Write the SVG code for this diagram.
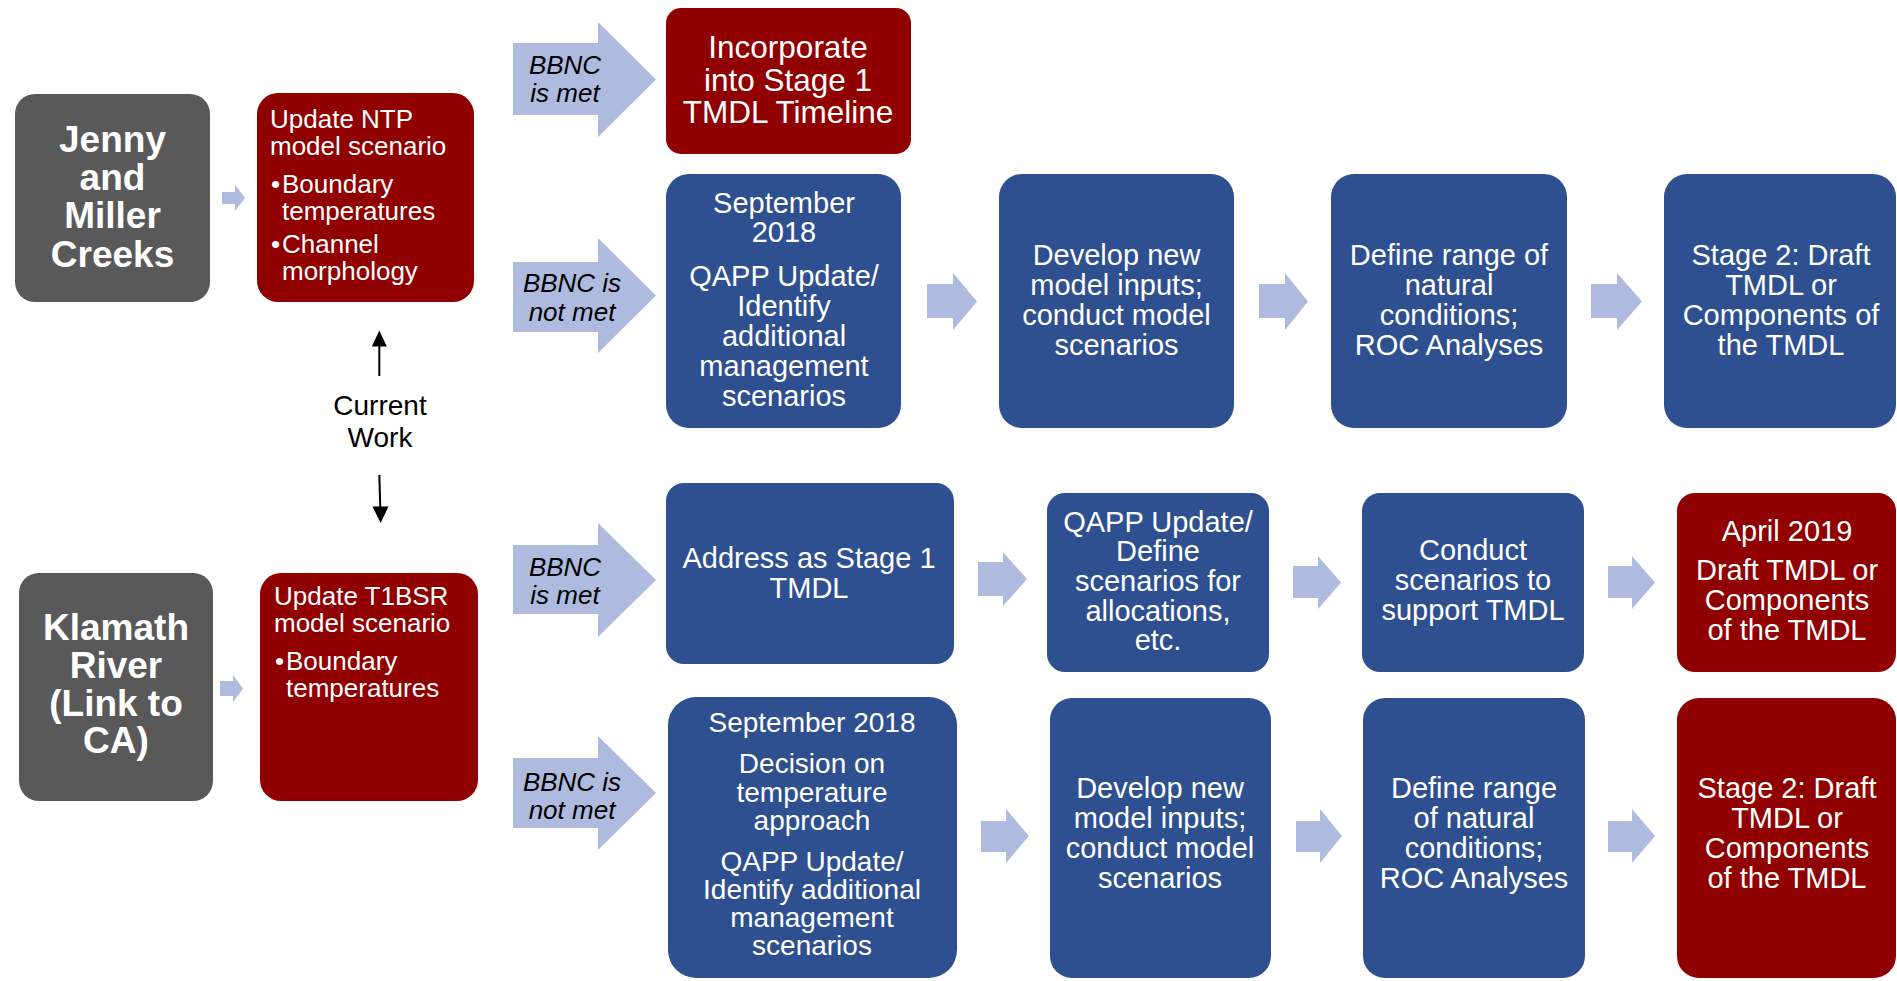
<svg xmlns="http://www.w3.org/2000/svg" width="1897" height="981" viewBox="0 0 1897 981">
<style>
text{font-family:"Liberation Sans",Arial,sans-serif;}
.gray{fill:#595959;}
.red{fill:#910000;}
.blue{fill:#2E5090;}
.arr{fill:#AEBBDE;}
.tb{fill:#fff;font-weight:bold;font-size:37px;text-anchor:middle;}
.tl{fill:#fff;font-size:26px;}
.t29{fill:#fff;font-size:29px;text-anchor:middle;}
.t28{fill:#fff;font-size:28px;text-anchor:middle;}
.t31{fill:#fff;font-size:31.5px;text-anchor:middle;}
.lbl{fill:#000;font-size:26px;font-style:italic;text-anchor:middle;}
.cw{fill:#000;font-size:28px;text-anchor:middle;}
.line{stroke:#000;stroke-width:2;fill:none;}
.head{fill:#000;}
</style>

<g id="connectors">
  <!-- small left arrows -->
  <polygon class="arr" points="222,192 235,192 235,185 245,198 235,211 235,204 222,204"/>
  <polygon class="arr" points="220,681 233,681 233,675 243,688.5 233,702 233,696 220,696"/>
  <!-- BBNC arrows -->
  <polygon class="arr" points="513,43 598,43 598,22 656,79.5 598,137 598,115 513,115"/>
  <polygon class="arr" points="513,262 598,262 598,238 656,295.5 598,353 598,332 513,332"/>
  <polygon class="arr" points="513,545 598,545 598,523 656,580 598,637 598,614 513,614"/>
  <polygon class="arr" points="513,758 598,758 598,736 656,793 598,850 598,828 513,828"/>
  <!-- row 1 arrows -->
  <polygon class="arr" points="927,284 953,284 953,273 977,301.5 953,330 953,318 927,318"/>
  <polygon class="arr" points="1259,284 1285,284 1285,273 1308,301.5 1285,330 1285,318 1259,318"/>
  <polygon class="arr" points="1591,284 1617,284 1617,273 1642,301.5 1617,330 1617,318 1591,318"/>
  <!-- row 2 arrows -->
  <polygon class="arr" points="978,562 1003,562 1003,552 1027,579 1003,606 1003,596 978,596"/>
  <polygon class="arr" points="1293,566 1318,566 1318,556 1341,582.5 1318,609 1318,598 1293,598"/>
  <polygon class="arr" points="1608,566 1632,566 1632,556 1655,582.5 1632,609 1632,598 1608,598"/>
  <!-- row 3 arrows -->
  <polygon class="arr" points="981,821 1006,821 1006,809 1029,836 1006,863 1006,852 981,852"/>
  <polygon class="arr" points="1296,821 1320,821 1320,809 1342,836 1320,863 1320,852 1296,852"/>
  <polygon class="arr" points="1608,821 1632,821 1632,809 1655,836 1632,863 1632,852 1608,852"/>
  <!-- current work arrows -->
  <line class="line" x1="379.3" y1="376" x2="379.3" y2="345"/>
  <polygon class="head" points="379.3,330.5 371.8,346.5 386.8,346.5"/>
  <line class="line" x1="379.3" y1="475" x2="380.3" y2="508"/>
  <polygon class="head" points="372.5,506.5 388.5,506.5 380.6,523"/>
  <!-- labels -->
  <text class="lbl" x="565" y="74">BBNC</text>
  <text class="lbl" x="565" y="102">is met</text>
  <text class="lbl" x="572" y="292">BBNC is</text>
  <text class="lbl" x="572" y="321">not met</text>
  <text class="lbl" x="565" y="576">BBNC</text>
  <text class="lbl" x="565" y="604">is met</text>
  <text class="lbl" x="572" y="791">BBNC is</text>
  <text class="lbl" x="572" y="819">not met</text>
</g>

<g id="n_current_work">
  <text class="cw" x="380" y="415">Current</text>
  <text class="cw" x="380" y="447">Work</text>
</g>

<g id="n_jenny">
  <rect class="gray" x="15" y="94" width="195" height="208" rx="20"/>
  <text class="tb" x="112.5" y="152">Jenny</text>
  <text class="tb" x="112.5" y="190">and</text>
  <text class="tb" x="112.5" y="228">Miller</text>
  <text class="tb" x="112.5" y="267">Creeks</text>
</g>

<g id="n_ntp">
  <rect class="red" x="257" y="93" width="217" height="209" rx="21"/>
  <text class="tl" x="270" y="128">Update NTP</text>
  <text class="tl" x="270" y="155">model scenario</text>
  <text class="tl" x="271" y="193">•</text>
  <text class="tl" x="282" y="193">Boundary</text>
  <text class="tl" x="282" y="220">temperatures</text>
  <text class="tl" x="271" y="253">•</text>
  <text class="tl" x="282" y="253">Channel</text>
  <text class="tl" x="282" y="280">morphology</text>
</g>

<g id="n_klamath">
  <rect class="gray" x="19" y="573" width="194" height="228" rx="20"/>
  <text class="tb" x="116" y="640">Klamath</text>
  <text class="tb" x="116" y="678">River</text>
  <text class="tb" x="116" y="716">(Link to</text>
  <text class="tb" x="116" y="753">CA)</text>
</g>

<g id="n_t1bsr">
  <rect class="red" x="260" y="573" width="218" height="228" rx="21"/>
  <text class="tl" x="274" y="605">Update T1BSR</text>
  <text class="tl" x="274" y="632">model scenario</text>
  <text class="tl" x="275" y="670">•</text>
  <text class="tl" x="286" y="670">Boundary</text>
  <text class="tl" x="286" y="697">temperatures</text>
</g>

<g id="n_incorporate">
  <rect class="red" x="666" y="8" width="245" height="146" rx="15"/>
  <text class="t31" x="788" y="58">Incorporate</text>
  <text class="t31" x="788" y="90.5">into Stage 1</text>
  <text class="t31" x="788" y="123">TMDL Timeline</text>
</g>

<g id="n_sept1">
  <rect class="blue" x="666" y="174" width="235" height="254" rx="23"/>
  <text class="t29" x="784" y="213">September</text>
  <text class="t29" x="784" y="242">2018</text>
  <text class="t29" x="784" y="286">QAPP Update/</text>
  <text class="t29" x="784" y="316">Identify</text>
  <text class="t29" x="784" y="346">additional</text>
  <text class="t29" x="784" y="376">management</text>
  <text class="t29" x="784" y="406">scenarios</text>
</g>

<g id="n_dev1">
  <rect class="blue" x="999" y="174" width="235" height="254" rx="23"/>
  <text class="t29" x="1116.5" y="265">Develop new</text>
  <text class="t29" x="1116.5" y="295">model inputs;</text>
  <text class="t29" x="1116.5" y="325">conduct model</text>
  <text class="t29" x="1116.5" y="355">scenarios</text>
</g>

<g id="n_def1">
  <rect class="blue" x="1331" y="174" width="236" height="254" rx="23"/>
  <text class="t29" x="1449" y="265">Define range of</text>
  <text class="t29" x="1449" y="295">natural</text>
  <text class="t29" x="1449" y="325">conditions;</text>
  <text class="t29" x="1449" y="355">ROC Analyses</text>
</g>

<g id="n_stage2a">
  <rect class="blue" x="1664" y="174" width="232" height="254" rx="23"/>
  <text class="t29" x="1781" y="265">Stage 2: Draft</text>
  <text class="t29" x="1781" y="295">TMDL or</text>
  <text class="t29" x="1781" y="325">Components of</text>
  <text class="t29" x="1781" y="355">the TMDL</text>
</g>

<g id="n_address">
  <rect class="blue" x="666" y="483" width="288" height="181" rx="18"/>
  <text class="t29" x="809" y="568">Address as Stage 1</text>
  <text class="t29" x="809" y="598">TMDL</text>
</g>

<g id="n_qapp2">
  <rect class="blue" x="1047" y="493" width="222" height="179" rx="18"/>
  <text class="t29" x="1158" y="532">QAPP Update/</text>
  <text class="t29" x="1158" y="561">Define</text>
  <text class="t29" x="1158" y="591">scenarios for</text>
  <text class="t29" x="1158" y="621">allocations,</text>
  <text class="t29" x="1158" y="650">etc.</text>
</g>

<g id="n_conduct">
  <rect class="blue" x="1362" y="493" width="222" height="179" rx="18"/>
  <text class="t29" x="1473" y="560">Conduct</text>
  <text class="t29" x="1473" y="590">scenarios to</text>
  <text class="t29" x="1473" y="620">support TMDL</text>
</g>

<g id="n_april">
  <rect class="red" x="1677" y="493" width="219" height="179" rx="18"/>
  <text class="t29" x="1787" y="541">April 2019</text>
  <text class="t29" x="1787" y="580">Draft TMDL or</text>
  <text class="t29" x="1787" y="610">Components</text>
  <text class="t29" x="1787" y="640">of the TMDL</text>
</g>

<g id="n_sept3">
  <rect class="blue" x="668" y="697" width="289" height="281" rx="28"/>
  <text class="t28" x="812" y="732">September 2018</text>
  <text class="t28" x="812" y="773">Decision on</text>
  <text class="t28" x="812" y="802">temperature</text>
  <text class="t28" x="812" y="830">approach</text>
  <text class="t28" x="812" y="871">QAPP Update/</text>
  <text class="t28" x="812" y="899">Identify additional</text>
  <text class="t28" x="812" y="927">management</text>
  <text class="t28" x="812" y="955">scenarios</text>
</g>

<g id="n_dev3">
  <rect class="blue" x="1050" y="698" width="221" height="280" rx="22"/>
  <text class="t29" x="1160" y="798">Develop new</text>
  <text class="t29" x="1160" y="828">model inputs;</text>
  <text class="t29" x="1160" y="858">conduct model</text>
  <text class="t29" x="1160" y="888">scenarios</text>
</g>

<g id="n_def3">
  <rect class="blue" x="1363" y="698" width="222" height="280" rx="22"/>
  <text class="t29" x="1474" y="798">Define range</text>
  <text class="t29" x="1474" y="828">of natural</text>
  <text class="t29" x="1474" y="858">conditions;</text>
  <text class="t29" x="1474" y="888">ROC Analyses</text>
</g>

<g id="n_stage2b">
  <rect class="red" x="1677" y="698" width="219" height="280" rx="22"/>
  <text class="t29" x="1787" y="798">Stage 2: Draft</text>
  <text class="t29" x="1787" y="828">TMDL or</text>
  <text class="t29" x="1787" y="858">Components</text>
  <text class="t29" x="1787" y="888">of the TMDL</text>
</g>
</svg>
